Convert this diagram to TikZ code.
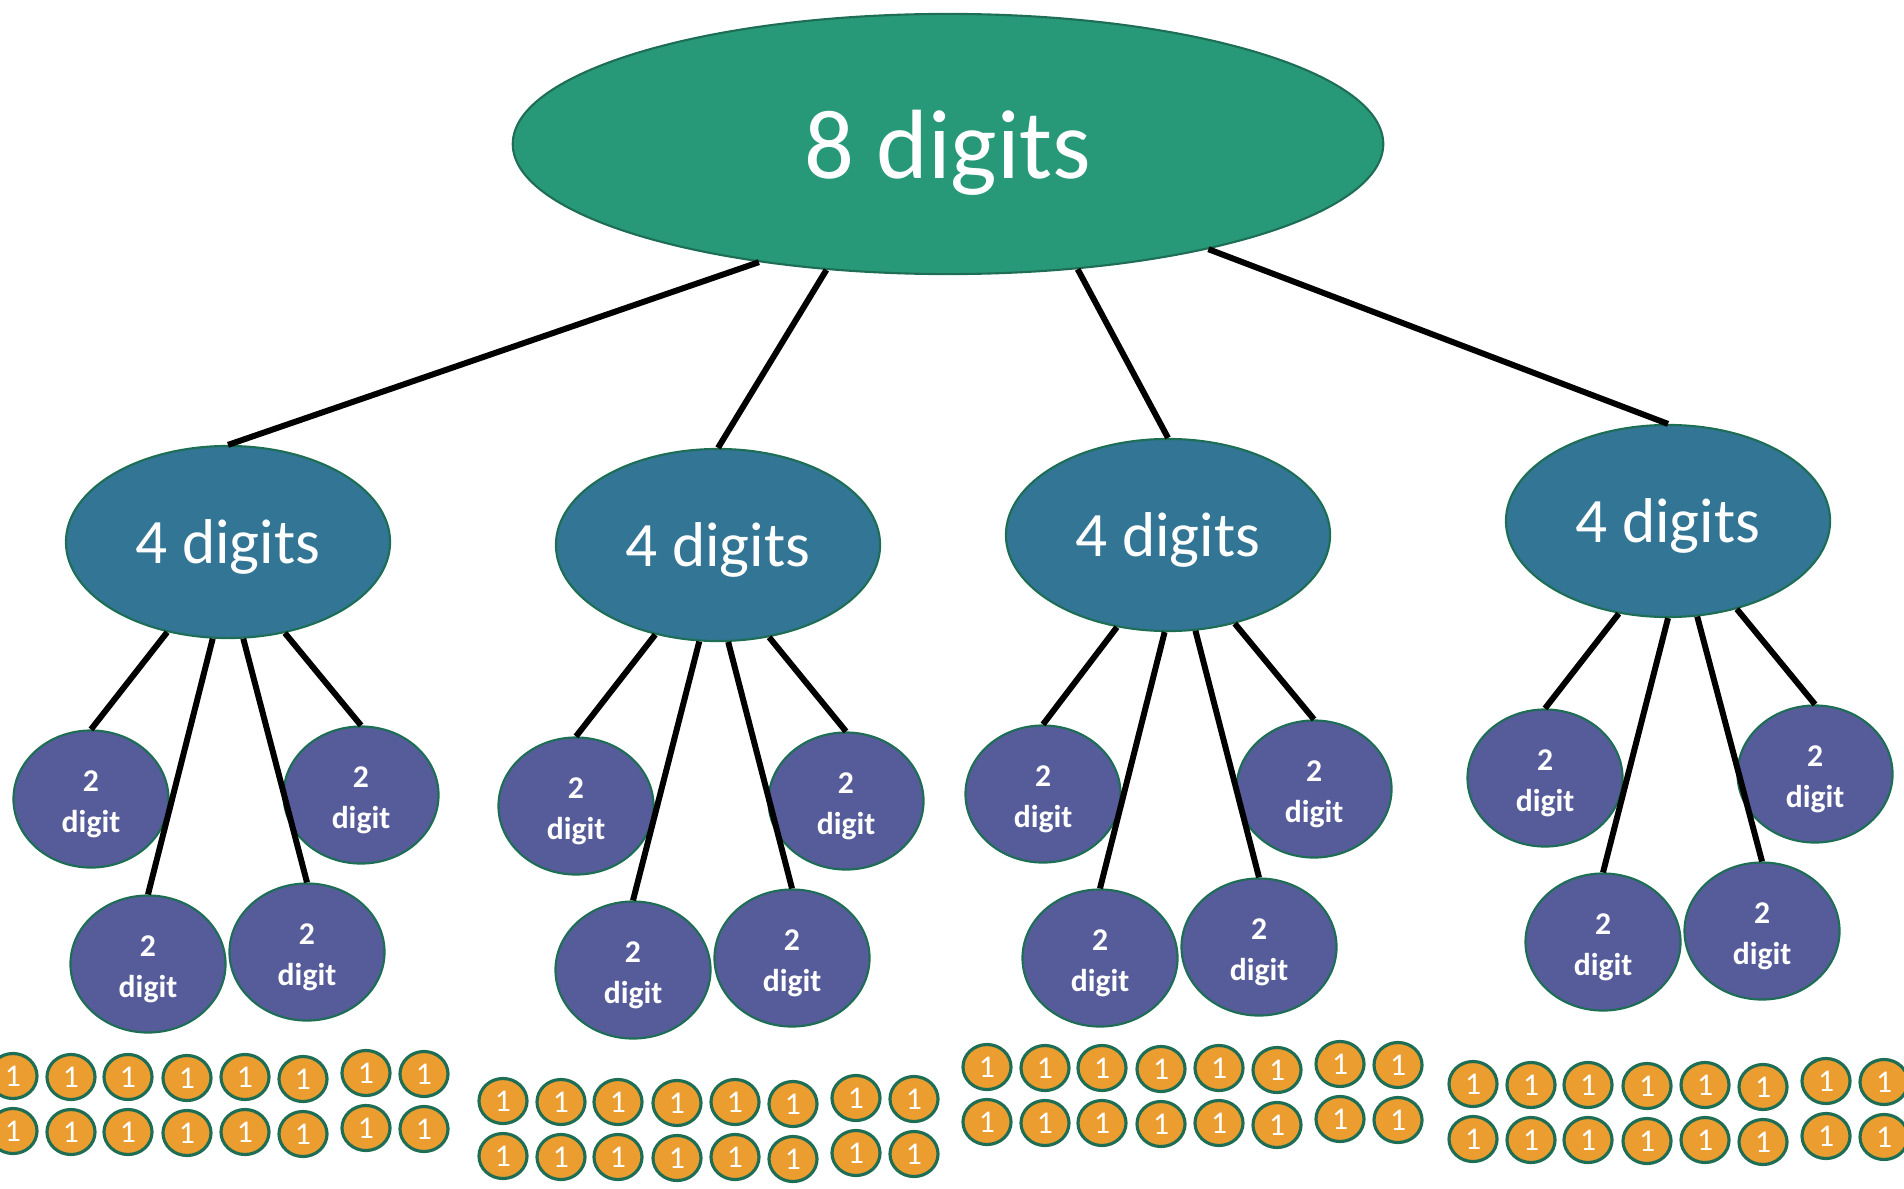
\documentclass[tikz,border=0pt]{standalone}
\usepackage{fontspec}
\setmainfont{Carlito}
\usetikzlibrary{shapes.geometric}
\definecolor{topgreen}{RGB}{40,153,120}
\definecolor{midblue}{RGB}{50,117,149}
\definecolor{lowpurple}{RGB}{85,92,153}
\definecolor{coinorange}{RGB}{236,157,47}
\definecolor{rimgreen}{RGB}{29,110,85}

\tikzset{
  eight/.style={draw=rimgreen, line width=0.6pt, ellipse, fill=topgreen, text=white, inner sep=0pt,
    minimum width=8.7cm, minimum height=2.6cm, text depth=0pt, font=\fontsize{28}{34}\selectfont},
  four/.style={draw=rimgreen, line width=0.6pt, ellipse, fill=midblue, text=white, inner sep=0pt,
    minimum width=3.24cm, minimum height=1.92cm, text depth=0pt, font=\fontsize{18}{22}\selectfont},
  two/.style={draw=rimgreen, line width=0.6pt, ellipse, fill=lowpurple, text=white, inner sep=0pt,
    minimum width=1.55cm, minimum height=1.37cm, align=center, font=\bfseries\fontsize{9}{11.7}\selectfont},
  coin/.style={draw=rimgreen, line width=0.9pt, ellipse, fill=coinorange, text=white, inner sep=0pt,
    minimum width=0.48cm, minimum height=0.45cm, font=\fontsize{9}{10}\selectfont},
  link/.style={line width=1.7pt, black}
}
\newcommand{\twotext}{\rule{0pt}{9pt}2\\digit}

\begin{document}
\begin{tikzpicture}[x=0.01cm, y=-0.01cm]
    \useasboundingbox (0,0) rectangle (1904,1188);

    \node[eight] (top) at (948,144) {8 digits};

    \node[four] (f1) at (228,542) {4 digits};
    \node[four] (f2) at (718,545) {4 digits};
    \node[four] (f3) at (1168,535) {4 digits};
    \node[four] (f4) at (1668,521) {4 digits};

    \node[two] (t11) at (91,799) {\twotext};
    \node[two] (t12) at (361,795) {\twotext};
    \node[two] (t13) at (148,964) {\twotext};
    \node[two] (t14) at (307,952) {\twotext};

    \node[two] (t21) at (576,806) {\twotext};
    \node[two] (t22) at (846,801) {\twotext};
    \node[two] (t23) at (633,970) {\twotext};
    \node[two] (t24) at (792,958) {\twotext};

    \node[two] (t31) at (1043,794) {\twotext};
    \node[two] (t32) at (1314,789) {\twotext};
    \node[two] (t33) at (1100,958) {\twotext};
    \node[two] (t34) at (1259,947) {\twotext};

    \node[two] (t41) at (1545,778) {\twotext};
    \node[two] (t42) at (1815,774) {\twotext};
    \node[two] (t43) at (1603,942) {\twotext};
    \node[two] (t44) at (1762,931) {\twotext};

    \draw[link] (top.212) -- (f1.north);
    \draw[link] (top.226) -- (f2.north);
    \draw[link] (top.316) -- (f3.north);
    \draw[link] (top.338) -- (f4.north);

    \draw[link] (f1.236) -- (t11.north);
    \draw[link] (f1.261) -- (t13.north);
    \draw[link] (f1.279) -- (t14.north);
    \draw[link] (f1.302) -- (t12.north);

    \draw[link] (f2.235) -- (t21.north);
    \draw[link] (f2.259) -- (t23.north);
    \draw[link] (f2.276) -- (t24.north);
    \draw[link] (f2.299) -- (t22.north);

    \draw[link] (f3.241) -- (t31.north);
    \draw[link] (f3.268) -- (t33.north);
    \draw[link] (f3.286) -- (t34.north);
    \draw[link] (f3.307) -- (t32.north);

    \draw[link] (f4.242) -- (t41.north);
    \draw[link] (f4.270) -- (t43.north);
    \draw[link] (f4.287) -- (t44.north);
    \draw[link] (f4.308) -- (t42.north);

    % two rows of ones under each group
    \foreach \g/\bx/\by in {1/13/1076, 2/503/1101, 3/987/1067, 4/1473/1084}
      \foreach \i/\dx/\dy in {1/0/0, 2/58/1, 3/115/1, 4/174/2, 5/232/1, 6/290/3, 7/353/-3, 8/411/-2}
        \foreach \r in {0,1}
          \node[coin] (c\g-\r-\i) at (\bx+\dx, \by+\dy+55*\r) {1};
\end{tikzpicture}
\end{document}
